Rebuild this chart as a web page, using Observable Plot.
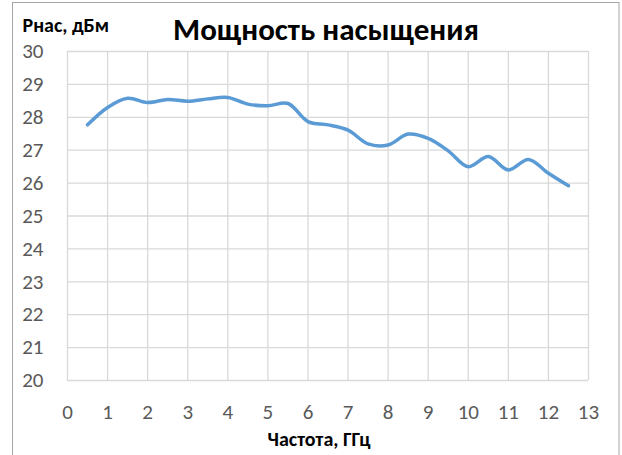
<!DOCTYPE html>
<html>
<head>
<meta charset="utf-8">
<script src="https://cdn.jsdelivr.net/npm/d3@7"></script>
<script src="https://cdn.jsdelivr.net/npm/@observablehq/plot@0.6"></script>
<style>
  html, body { margin: 0; padding: 0; background: #fff; }
  svg { display: block; }
</style>
</head>
<body>
<div id="chart"></div>
<script>
const title = "Мощность насыщения";
const yTitle = "Рнас, дБм";
const xTitle = "Частота, ГГц";
const freq = [0.5, 1, 1.5, 2, 2.5, 3, 3.5, 4, 4.5, 5, 5.5, 6, 6.5, 7, 7.5, 8, 8.5, 9, 9.5, 10, 10.5, 11, 11.5, 12, 12.5];
const power = [27.77, 28.30, 28.58, 28.45, 28.54, 28.49, 28.56, 28.60, 28.40, 28.35, 28.42, 27.87, 27.77, 27.61, 27.19, 27.16, 27.49, 27.36, 26.98, 26.50, 26.81, 26.40, 26.72, 26.30, 25.92];
const xTicks = [0, 1, 2, 3, 4, 5, 6, 7, 8, 9, 10, 11, 12, 13];
const yTicks = [20, 21, 22, 23, 24, 25, 26, 27, 28, 29, 30];

const data = freq.map((f, i) => ({f, p: power[i]}));
const font = "Calibri, Carlito, Lato, 'Open Sans', sans-serif";

const chart = Plot.plot({
  width: 622,
  height: 455,
  marginTop: 51,
  marginLeft: 67,
  marginRight: 34,
  marginBottom: 75,
  style: {fontFamily: font, background: "#fff"},
  x: {domain: [0, 13], axis: null},
  y: {domain: [20, 30], axis: null},
  marks: [
    Plot.ruleX(xTicks, {x: d => d, stroke: "#d9d9d9", strokeWidth: 1.3}),
    Plot.ruleY(yTicks, {y: d => d, stroke: "#d9d9d9", strokeWidth: 1.3}),
    Plot.text(xTicks, {x: d => d, frameAnchor: "bottom", dy: 32, lineAnchor: "middle", text: d => String(d), fill: "#595959", fontSize: 21}),
    Plot.text(yTicks, {y: d => d, frameAnchor: "left", dx: -24, textAnchor: "end", lineAnchor: "middle", text: d => String(d), fill: "#595959", fontSize: 21}),
    Plot.line(data, {x: "f", y: "p", curve: "catmull-rom", stroke: "#5b9bd5", strokeWidth: 3.5, strokeLinecap: "round"}),
    Plot.text([xTitle], {frameAnchor: "bottom", dx: -9, dy: 59, lineAnchor: "middle", text: d => d, fontWeight: "bold", fontSize: 20, fill: "#000"}),
    Plot.text([title], {frameAnchor: "top", dx: -2, dy: -21, lineAnchor: "middle", text: d => d, fontWeight: "bold", fontSize: 31, fill: "#000"}),
    Plot.text([yTitle], {frameAnchor: "top-left", dx: -45, dy: -26, textAnchor: "start", lineAnchor: "middle", text: d => d, fontWeight: "bold", fontSize: 20, fill: "#000"})
  ]
});

d3.select(chart).insert("rect", ":first-child")
  .attr("x", 12.5).attr("y", 2.5).attr("width", 606.5).attr("height", 470)
  .attr("fill", "none").attr("stroke", "#a6a6a6").attr("stroke-width", 1);

document.getElementById("chart").appendChild(chart);
</script>
</body>
</html>
